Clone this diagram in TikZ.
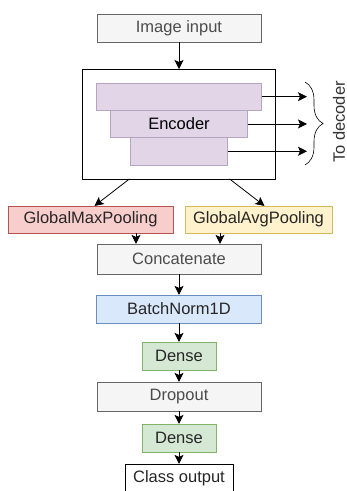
\documentclass[tikz,border=0pt]{standalone}
\usepackage{fontspec}
\setmainfont{Liberation Sans}
\usepackage{tikz}
\usetikzlibrary{positioning}
\usetikzlibrary{fit}
\usetikzlibrary{arrows.meta}
\usetikzlibrary{decorations.pathreplacing}
\definecolor{greyfill}{HTML}{F5F5F5}
\definecolor{greyline}{HTML}{666666}
\definecolor{redfill}{HTML}{F8CECC}
\definecolor{redline}{HTML}{B85450}
\definecolor{yellowfill}{HTML}{FFF2CC}
\definecolor{yellowline}{HTML}{D6B656}
\definecolor{bluefill}{HTML}{DAE8FC}
\definecolor{blueline}{HTML}{6C8EBF}
\definecolor{greenfill}{HTML}{D5E8D4}
\definecolor{greenline}{HTML}{82B366}
\definecolor{purplefill}{HTML}{E1D5E7}
\definecolor{purpleline}{HTML}{B7A3C2}

\begin{document}
\begin{tikzpicture}[
            > = {Stealth[length=9pt,width=9pt,inset=2pt]}, % arrow head style
            line width = 0.8pt,
            outer sep = 0pt, % gaps measured from the drawn border
            font = \fontsize{16.5}{19}\selectfont
            ]

        \tikzset{
            layer/.style = {draw, rectangle, inner sep = 2pt, minimum height = 28pt, text = black!85},
            greylayer/.style = {layer, fill = greyfill, draw = greyline, text = black!70},
            enclayer/.style = {rectangle, fill = purplefill, draw = purpleline, line width = 0.6pt, minimum height = 27.3pt, inner sep = 2pt}
        }

        \useasboundingbox (0,0) rectangle (347pt,-491pt);

	% input and encoder
	\node[greylayer, minimum width = 164pt] (input) at (179pt,-28pt) {Image input};
	\node[enclayer, minimum width = 165pt] (enc1) [below = 41pt of input] {};
	\node[enclayer, minimum width = 137pt] (enc2) [below = 0pt of enc1] {Encoder};
	\node[enclayer, minimum width = 97pt] (enc3) [below = 0pt of enc2] {};
	\node[draw, fit = (enc1) (enc2) (enc3), inner sep = 14pt] (encbox) {};
	\path[->] (input) edge (encbox);

	% skip outputs
	\coordinate (dec) at (307pt,0);
	\draw[->] (enc1) -- (enc1 -| dec);
	\draw[->] (enc2) -- (enc2 -| dec);
	\draw[->] (enc3) -- (enc3 -| dec);
	\coordinate (bracetop) at (305pt,-82pt);
	\coordinate (bracebot) at (305pt,-165pt);
	\draw[line width = 0.6pt, decorate, decoration = {brace, amplitude = 18pt}] (bracetop) -- (bracebot);
	\node[rotate = 90, text = black!80] (todec) at (339pt,-122pt) {To decoder};

	% pooling
	\node[layer, fill = redfill, draw = redline, minimum width = 165pt, minimum height = 27pt] (gmp) [below = 27pt of encbox.south, xshift = -88.5pt] {GlobalMaxPooling};
	\node[layer, fill = yellowfill, draw = yellowline, minimum width = 147pt, minimum height = 27pt] (gap) [below = 27pt of encbox.south, xshift = 79.5pt] {GlobalAvgPooling};
	\coordinate (e1) at ([xshift = 47pt]encbox.south west);
	\coordinate (e2) at ([xshift = -46pt]encbox.south east);
	\draw[->] (e1) -- ([xshift = 4pt]gmp.north);
	\draw[->] (e2) -- ([xshift = 6pt]gap.north);

	% head
	\coordinate (midpool) at (encbox.south |- gmp.south);
	\node[greylayer, minimum width = 164pt, minimum height = 30pt] (cat) [below = 11pt of midpool] {Concatenate};
	\coordinate (c1) at ([xshift = 39pt]cat.north west);
	\coordinate (c2) at ([xshift = -41pt]cat.north east);
	\draw[->] (c1 |- gmp.south) -- (c1);
	\draw[->] (c2 |- gap.south) -- (c2);

	\node[layer, fill = bluefill, draw = blueline, minimum width = 165pt] (bn) [below = 21pt of cat] {BatchNorm1D};
	\node[layer, fill = greenfill, draw = greenline, minimum width = 74pt] (dense1) [below = 19pt of bn] {Dense};
	\node[greylayer, minimum width = 164pt, minimum height = 29pt] (drop) [below = 12pt of dense1] {Dropout};
	\node[layer, fill = greenfill, draw = greenline, minimum width = 74pt] (dense2) [below = 13pt of drop] {Dense};
	\node[layer, fill = white, draw = black, minimum width = 108pt] (out) [below = 12pt of dense2] {Class output};

	\path[->] (cat) edge (bn);
	\path[->] (bn) edge (dense1);
	\path[->] (dense1) edge (drop);
	\path[->] (drop) edge (dense2);
	\path[->] (dense2) edge (out);

\end{tikzpicture}
\end{document}
